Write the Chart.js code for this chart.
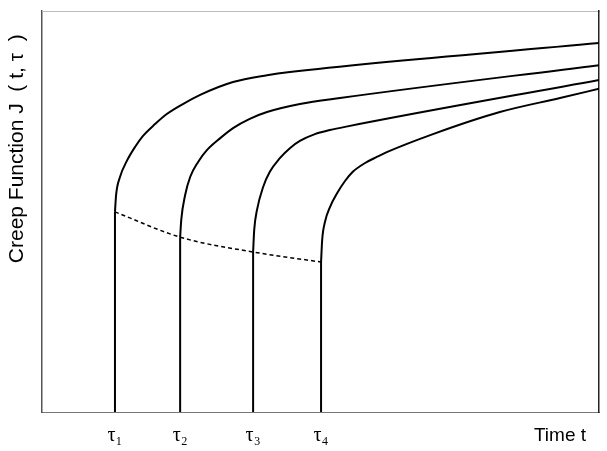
<!DOCTYPE html>
<html>
<head>
<meta charset="utf-8">
<script src="https://cdn.jsdelivr.net/npm/chart.js@4/dist/chart.umd.min.js"></script>
<style>
  body { margin: 0; background: #fff; }
</style>
</head>
<body>
<canvas id="creep" width="607" height="451"></canvas>
<script>
// loading ages tau (x position) and the curve
const tauPos = [13.1, 24.8, 37.9, 50.1];
const tauLabels = ["τ₁", "τ₂", "τ₃", "τ₄"];
const timeLabelPos = 93.0;
const timeLabel = "Time t";

// elastic (instantaneous) value at each tau -> dashed curve
const startJ = [49.9, 43.6, 39.9, 37.4];

const c1x = [13.1, 13.3, 14.0, 15.3, 16.7, 18.1, 20.3, 22.4, 25.3, 28.4, 34.3, 40.4, 44.5, 100];
const c1y = [49.9, 54.1, 58.6, 62.8, 66.1, 68.8, 71.8, 74.3, 76.8, 79.1, 82.3, 84.0, 84.8, 92.0];

const c2x = [24.8, 25.0, 25.7, 26.6, 28.0, 29.6, 32.0, 34.3, 37.3, 40.4, 46.3, 53.5, 100];
const c2y = [43.6, 47.9, 54.1, 58.6, 62.3, 65.3, 68.3, 70.8, 73.1, 74.8, 76.8, 78.3, 86.5];

const c3x = [37.9, 38.1, 38.6, 39.7, 40.9, 42.7, 44.5, 46.3, 49.0, 51.7, 54.4, 100];
const c3y = [39.9, 45.4, 50.4, 56.1, 59.9, 63.3, 65.8, 67.6, 69.3, 70.3, 71.1, 82.8];

const c4x = [50.1, 50.3, 50.8, 51.7, 53.0, 54.4, 55.8, 58.0, 60.1, 61.9, 70.2, 82.2, 93.0, 100];
const c4y = [37.4, 42.9, 47.4, 51.1, 54.6, 57.6, 59.9, 62.1, 63.6, 64.8, 69.3, 74.8, 78.3, 80.6];

// trailing spaces push the text down from the top of the axis
const yTitle = "Creep Function J  ( t, τ  )    ";

function pts(xs, ys) {
    return xs.map((x, i) => ({ x: x, y: ys[i] }));
}

const datasets = [];

// vertical jumps at each tau
tauPos.forEach((t, i) => {
    datasets.push({
        data: [{ x: t, y: 0 }, { x: t, y: startJ[i] }],
        borderColor: "#000", borderWidth: 2, tension: 0
    });
});

// creep curves
[[c1x, c1y], [c2x, c2y], [c3x, c3y], [c4x, c4y]].forEach(c => {
    datasets.push({
        data: pts(c[0], c[1]),
        borderColor: "#000", borderWidth: 2,
        cubicInterpolationMode: "monotone"
    });
});

// dashed elastic curve
datasets.push({
    data: pts(tauPos, startJ),
    borderColor: "#000", borderWidth: 1.5, borderDash: [4, 3],
    cubicInterpolationMode: "monotone"
});

new Chart(document.getElementById("creep"), {
    type: "scatter",
    data: { datasets: datasets },
    options: {
        responsive: false,
        animation: false,
        showLine: true,
        layout: { padding: { top: 11, right: 8, left: 0, bottom: 0 } },
        elements: { point: { radius: 0, hoverRadius: 0 } },
        plugins: { legend: { display: false }, tooltip: { enabled: false } },
        scales: {
            x: {
                type: "linear", min: 0, max: 100,
                grid: { display: false, drawTicks: false },
                border: { display: true, color: "#777", width: 1 },
                afterBuildTicks: s => {
                    s.ticks = tauPos.concat([timeLabelPos]).map(v => ({ value: v }));
                },
                afterFit: s => { s.height = 39; },
                ticks: {
                    padding: 12,
                    maxRotation: 0,
                    autoSkip: false,
                    color: "#000",
                    callback: (v, i) => i < 4 ? tauLabels[i] : timeLabel,
                    font: ctx => ctx.index < 4
                        ? { family: "'Liberation Serif', serif", size: 20 }
                        : { family: "'Liberation Sans', Arial, sans-serif", size: 19 }
                }
            },
            y: {
                type: "linear", min: 0, max: 100,
                grid: { display: false, drawTicks: false },
                border: { display: true, color: "#555", width: 1.5 },
                ticks: { display: false },
                afterFit: s => { s.width = 42; },
                title: {
                    display: true, text: yTitle, align: "end",
                    color: "#000",
                    padding: { top: 5, bottom: 0 },
                    font: { family: "'Liberation Sans', Arial, sans-serif", size: 21 }
                }
            },
            xTop: {
                type: "linear", position: "top", min: 0, max: 100,
                grid: { display: false, drawTicks: false },
                border: { display: true, color: "#bbb", width: 1 },
                ticks: { display: false },
                afterFit: s => { s.height = 0; }
            },
            yRight: {
                type: "linear", position: "right", min: 0, max: 100,
                grid: { display: false, drawTicks: false },
                border: { display: true, color: "#222", width: 1.5 },
                ticks: { display: false },
                afterFit: s => { s.width = 0; }
            }
        }
    }
});
</script>
</body>
</html>
